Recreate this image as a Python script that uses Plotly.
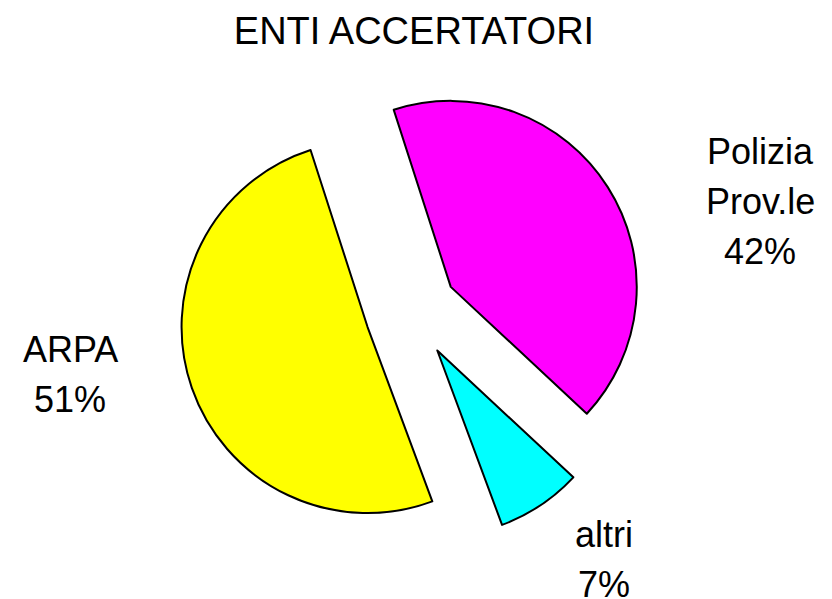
import plotly.graph_objects as go

labels = ["Polizia Prov.le", "altri", "ARPA"]
label_lines = [["Polizia", "Prov.le"], ["altri"], ["ARPA"]]
values = [41.9, 7.4, 50.7]
colors = ["#FF00FF", "#00FFFF", "#FFFF00"]

W, H = 832, 599

fig = go.Figure(
    go.Pie(
        labels=labels,
        values=values,
        sort=False,
        direction="clockwise",
        rotation=-17.85,
        pull=[0.25, 0.25, 0.25],
        marker=dict(colors=colors, line=dict(color="black", width=2)),
        textinfo="none",
        hoverinfo="label+percent",
        domain=dict(x=[0.1946, 0.7946], y=[0.0913, 0.8676]),
        showlegend=False,
    )
)

# label positions in pixels (centre of first line)
label_pos = [(760, 151), (604, 534), (70, 349)]
total = sum(values)
for lines, v, (px_, py_) in zip(label_lines, values, label_pos):
    pct = round(100 * v / total)
    for i, line in enumerate(lines + [f"{pct}%"]):
        fig.add_annotation(
            text=line,
            x=px_ / W,
            y=1 - (py_ + 50 * i) / H,
            xref="paper",
            yref="paper",
            xanchor="center",
            yanchor="middle",
            showarrow=False,
            font=dict(size=36, color="black"),
        )

fig.update_layout(
    title=dict(
        text="ENTI ACCERTATORI",
        x=414 / W,
        xanchor="center",
        y=1 - 31 / H,
        yanchor="middle",
        font=dict(size=38, color="black"),
    ),
    font=dict(family="Liberation Sans, Arial, sans-serif"),
    width=W,
    height=H,
    margin=dict(l=0, r=0, t=0, b=0),
    paper_bgcolor="white",
    plot_bgcolor="white",
)

fig.write_html(
    "out.html",
    config={"displayModeBar": False},
    post_script="document.body.style.margin = '0';",
)
